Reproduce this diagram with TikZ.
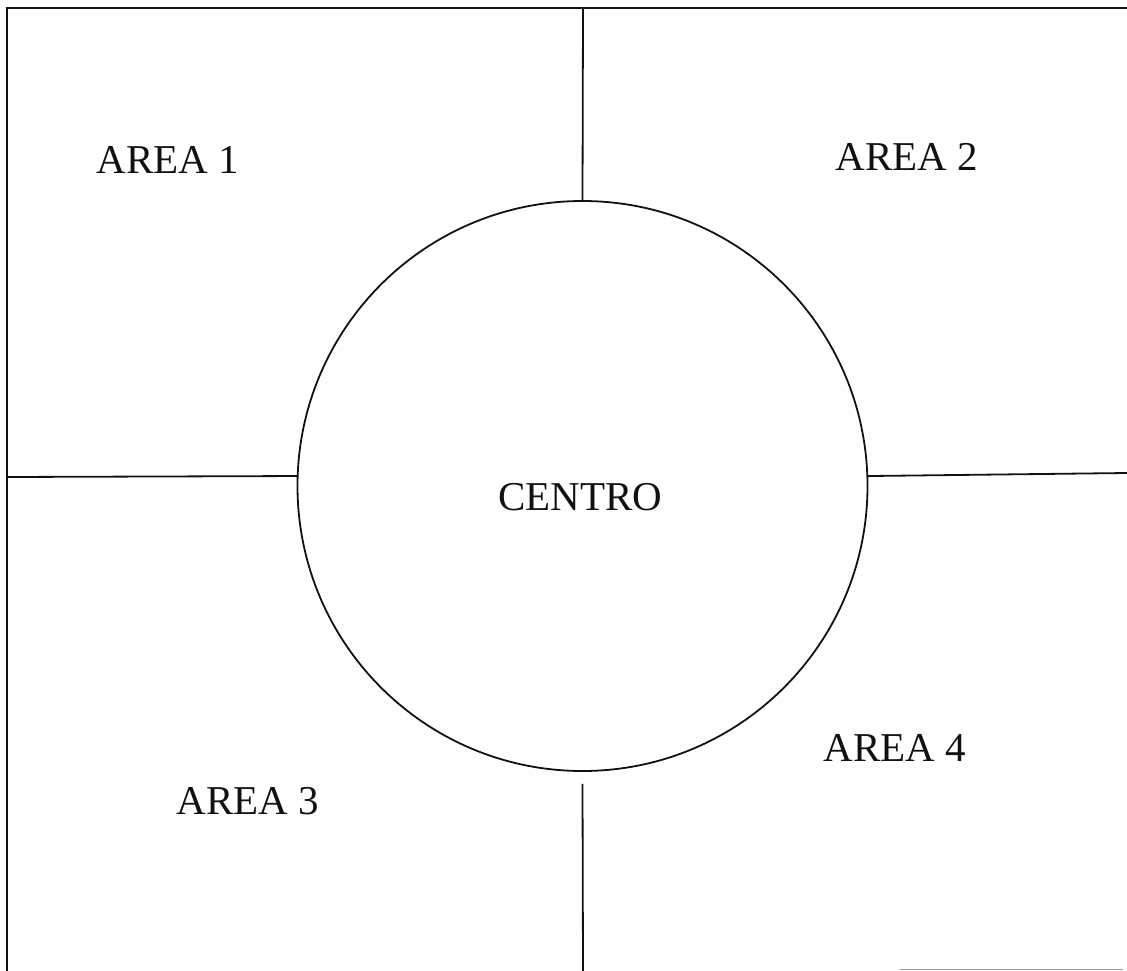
\documentclass[tikz,border=0pt]{standalone}
\usepackage{fontspec}
\setmainfont{Liberation Serif}
\usepackage{xcolor}
\usetikzlibrary{calc}
\definecolor{ink}{HTML}{111111}
\definecolor{faint}{HTML}{9A9A9A}
\tikzset{
  wall/.style={draw=ink, line width=1.8pt},
  faintwall/.style={draw=faint, line width=.8pt},
  areatext/.style={font=\fontsize{41}{48}\selectfont, text=ink, inner sep=0pt},
  hub/.style={circle, draw=ink, line width=1.8pt, minimum size=570pt,
    inner sep=0pt}
}
\begin{document}
\begin{tikzpicture}[x=1pt,y=-1pt]
  \useasboundingbox (0,0) rectangle (1127,971);

  % -------------------------------------------------------------------
  % Outer frame and the four division lines.
  \coordinate (frameTL) at (7,8);
  \coordinate (frameTR) at (1127,8);
  \coordinate (frameBL) at (7,971);
  \draw[wall] (frameBL) -- (frameTL) -- (frameTR);
  \coordinate (bottomA) at (900,969);
  \coordinate (bottomB) at (1123,969);
  \draw[faintwall] (bottomA) -- (bottomB);

  \node[hub] (centro) at (582.5,486) {};

  \coordinate (topEnd) at (583,8);
  \coordinate (leftEnd) at (7,477);
  \coordinate (rightEnd) at (1127,473);
  \coordinate (bottomEnd) at (583,971);
  \draw[wall] (topEnd) -- (centro.north);
  \draw[wall] (leftEnd) -- (centro.178.2);
  \draw[wall] (centro.2.6) -- (rightEnd);
  \draw[wall] ($(centro.south)+(0,12)$) -- (bottomEnd);

  % -------------------------------------------------------------------
  % Labels.
  \node[areatext] (centroText) at (580,497) {CENTRO};
  \node[areatext] (area1) at (168,160) {AREA 1};
  \node[areatext] (area2) at (907,157) {AREA 2};
  \node[areatext] (area3) at (248,801) {AREA 3};
  \node[areatext] (area4) at (895,748) {AREA 4};
\end{tikzpicture}
\end{document}
